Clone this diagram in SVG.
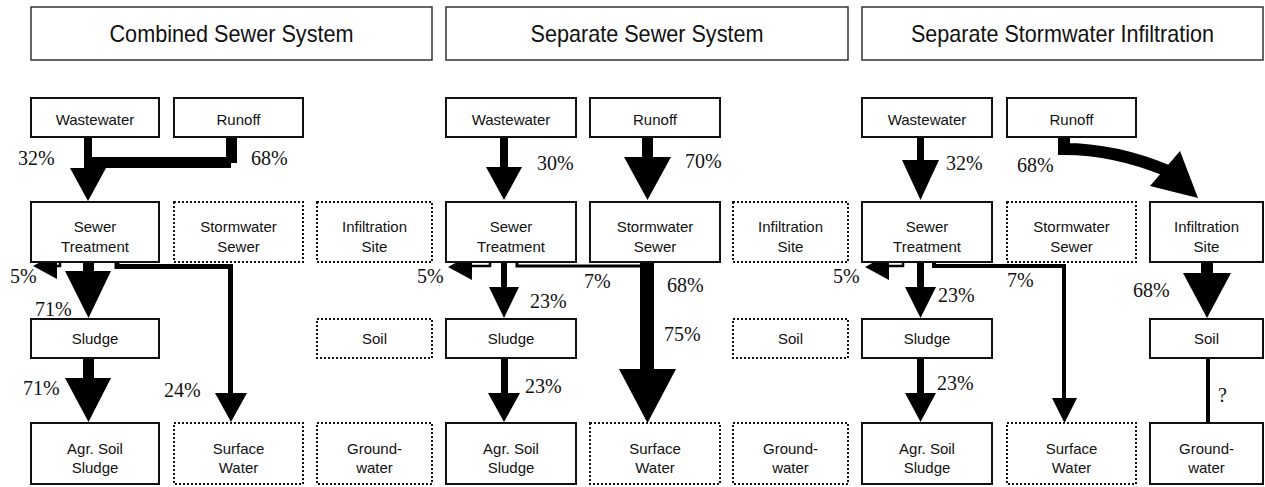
<svg xmlns="http://www.w3.org/2000/svg" width="1265" height="487" viewBox="0 0 1265 487">
<style>
.bg{fill:#fff}
.tb{fill:#fff;stroke:#333;stroke-width:1.5}
.bx{fill:#fff;stroke:#111;stroke-width:2}
.dt{fill:#fff;stroke:#111;stroke-width:2;stroke-dasharray:2 2}
.h{font-family:"Liberation Sans",Arial,sans-serif;font-size:24px;fill:#111;text-anchor:middle}
.t{font-family:"Liberation Sans",Arial,sans-serif;font-size:15px;fill:#111;text-anchor:middle}
.p{font-family:"Liberation Serif","Times New Roman",serif;font-size:20px;fill:#111}
.f{fill:#000}
.ln{fill:none;stroke:#000;stroke-linejoin:miter}
</style>
<rect class="bg" x="0" y="0" width="1265" height="487"/>

<g id="connectors">
  <!-- Panel 1 -->
  <rect class="f" x="84" y="137" width="8" height="31"/>
  <rect class="f" x="84" y="157" width="147" height="11"/>
  <rect class="f" x="226" y="137" width="11" height="26"/>
  <polygon class="f" points="70,168 106,168 88,201"/>
  <polygon class="f" points="33,266 57,253 57,279"/>
  <polyline class="ln" stroke-width="2.5" points="57,266 60,266 60,262"/>
  <rect class="f" x="83" y="262" width="11" height="10"/>
  <polygon class="f" points="65,271 111,271 88.5,318"/>
  <polyline class="ln" stroke-width="5" points="117,262 117,266.5 230.5,266.5 230.5,394"/>
  <polygon class="f" points="215,393 247,393 231,422"/>
  <rect class="f" x="83" y="358" width="11" height="21"/>
  <polygon class="f" points="65,378 111,378 88.5,422"/>
  <!-- Panel 2 -->
  <rect class="f" x="500" y="138" width="8" height="30"/>
  <polygon class="f" points="486,167 522,167 504,200"/>
  <rect class="f" x="642" y="138" width="11" height="20"/>
  <polygon class="f" points="624,157 671,157 647.5,200"/>
  <polygon class="f" points="448,267 472,254 472,280"/>
  <polyline class="ln" stroke-width="2.5" points="472,266 490,266 490,262"/>
  <rect class="f" x="501" y="262" width="6" height="26"/>
  <polygon class="f" points="489,287 519,287 504,318"/>
  <polyline class="ln" stroke-width="3" points="517,262 517,266 642,266"/>
  <rect class="f" x="640" y="262" width="14" height="108"/>
  <polygon class="f" points="619,369 676,369 647.5,423"/>
  <rect class="f" x="501" y="358" width="7" height="36"/>
  <polygon class="f" points="488,393 520,393 504,422"/>
  <!-- Panel 3 -->
  <rect class="f" x="917" y="138" width="7" height="23"/>
  <polygon class="f" points="902,160 939,160 920.5,200"/>
  <path class="ln" stroke-width="12" d="M1064,137 V149 Q1115,149 1168,171"/>
  <polygon class="f" points="1150,186 1180,151 1198,198"/>
  <polygon class="f" points="865,267 889,254 889,280"/>
  <polyline class="ln" stroke-width="2.5" points="889,266 903,266 903,262"/>
  <rect class="f" x="917" y="262" width="7" height="26"/>
  <polygon class="f" points="905,287 936,287 920.5,318"/>
  <polyline class="ln" stroke-width="4" points="934,262 934,266 1064,266 1064,399"/>
  <polygon class="f" points="1052,398 1077,398 1064.5,423"/>
  <rect class="f" x="917" y="358" width="7" height="36"/>
  <polygon class="f" points="905,393 936,393 920.5,422"/>
  <rect class="f" x="1201" y="262" width="12" height="12"/>
  <polygon class="f" points="1183,273 1231,273 1207,318"/>
  <line class="ln" stroke-width="4" x1="1208" y1="358" x2="1208" y2="423"/>
</g>

<g id="labels">
  <text class="p" x="18" y="165">32%</text>
  <text class="p" x="251" y="165">68%</text>
  <text class="p" x="10" y="283">5%</text>
  <text class="p" x="35" y="316">71%</text>
  <text class="p" x="23" y="395">71%</text>
  <text class="p" x="164" y="397">24%</text>
  <text class="p" x="537" y="170">30%</text>
  <text class="p" x="685" y="168">70%</text>
  <text class="p" x="417" y="283">5%</text>
  <text class="p" x="530" y="308">23%</text>
  <text class="p" x="584" y="288">7%</text>
  <text class="p" x="667" y="292">68%</text>
  <text class="p" x="664" y="341">75%</text>
  <text class="p" x="525" y="393">23%</text>
  <text class="p" x="946" y="170">32%</text>
  <text class="p" x="1017" y="172">68%</text>
  <text class="p" x="833" y="283">5%</text>
  <text class="p" x="938" y="302">23%</text>
  <text class="p" x="1007" y="287">7%</text>
  <text class="p" x="1133" y="297">68%</text>
  <text class="p" x="937" y="390">23%</text>
  <text class="p" x="1218" y="402">?</text>
</g>

<!-- Titles -->
<g id="title-combined"><rect class="tb" x="31" y="7" width="401" height="53"/><text class="h" x="231.5" y="42" textLength="244" lengthAdjust="spacingAndGlyphs">Combined Sewer System</text></g>
<g id="title-separate"><rect class="tb" x="446" y="7" width="402" height="53"/><text class="h" x="647" y="42" textLength="233" lengthAdjust="spacingAndGlyphs">Separate Sewer System</text></g>
<g id="title-infiltration"><rect class="tb" x="862" y="7" width="401" height="53"/><text class="h" x="1062.5" y="42" textLength="303" lengthAdjust="spacingAndGlyphs">Separate Stormwater Infiltration</text></g>

<!-- Panel 1 nodes -->
<g id="p1-wastewater"><rect class="bx" x="31" y="98" width="128" height="39"/><text class="t" x="95" y="125">Wastewater</text></g>
<g id="p1-runoff"><rect class="bx" x="174" y="98" width="129" height="39"/><text class="t" x="238.5" y="125">Runoff</text></g>
<g id="p1-sewer-treatment"><rect class="bx" x="31" y="202" width="128" height="60"/><text class="t" x="95" y="232">Sewer</text><text class="t" x="95" y="252">Treatment</text></g>
<g id="p1-stormwater-sewer"><rect class="dt" x="174" y="202" width="129" height="60"/><text class="t" x="238.5" y="232">Stormwater</text><text class="t" x="238.5" y="252">Sewer</text></g>
<g id="p1-infiltration-site"><rect class="dt" x="317" y="202" width="115" height="60"/><text class="t" x="374.5" y="232">Infiltration</text><text class="t" x="374.5" y="252">Site</text></g>
<g id="p1-sludge"><rect class="bx" x="31" y="319" width="128" height="39"/><text class="t" x="95" y="344">Sludge</text></g>
<g id="p1-soil"><rect class="dt" x="317" y="319" width="115" height="39"/><text class="t" x="374.5" y="344">Soil</text></g>
<g id="p1-agr-soil"><rect class="bx" x="31" y="423" width="128" height="61"/><text class="t" x="95" y="454">Agr. Soil</text><text class="t" x="95" y="473">Sludge</text></g>
<g id="p1-surface-water"><rect class="dt" x="174" y="423" width="129" height="61"/><text class="t" x="238.5" y="454">Surface</text><text class="t" x="238.5" y="473">Water</text></g>
<g id="p1-groundwater"><rect class="dt" x="317" y="423" width="115" height="61"/><text class="t" x="374.5" y="454">Ground-</text><text class="t" x="374.5" y="473">water</text></g>

<!-- Panel 2 nodes -->
<g id="p2-wastewater"><rect class="bx" x="446" y="98" width="130" height="39"/><text class="t" x="511" y="125">Wastewater</text></g>
<g id="p2-runoff"><rect class="bx" x="590" y="98" width="130" height="39"/><text class="t" x="655" y="125">Runoff</text></g>
<g id="p2-sewer-treatment"><rect class="bx" x="446" y="202" width="130" height="60"/><text class="t" x="511" y="232">Sewer</text><text class="t" x="511" y="252">Treatment</text></g>
<g id="p2-stormwater-sewer"><rect class="bx" x="590" y="202" width="130" height="60"/><text class="t" x="655" y="232">Stormwater</text><text class="t" x="655" y="252">Sewer</text></g>
<g id="p2-infiltration-site"><rect class="dt" x="733" y="202" width="115" height="60"/><text class="t" x="790.5" y="232">Infiltration</text><text class="t" x="790.5" y="252">Site</text></g>
<g id="p2-sludge"><rect class="bx" x="446" y="319" width="130" height="39"/><text class="t" x="511" y="344">Sludge</text></g>
<g id="p2-soil"><rect class="dt" x="733" y="319" width="115" height="39"/><text class="t" x="790.5" y="344">Soil</text></g>
<g id="p2-agr-soil"><rect class="bx" x="446" y="423" width="130" height="61"/><text class="t" x="511" y="454">Agr. Soil</text><text class="t" x="511" y="473">Sludge</text></g>
<g id="p2-surface-water"><rect class="dt" x="590" y="423" width="130" height="61"/><text class="t" x="655" y="454">Surface</text><text class="t" x="655" y="473">Water</text></g>
<g id="p2-groundwater"><rect class="dt" x="733" y="423" width="115" height="61"/><text class="t" x="790.5" y="454">Ground-</text><text class="t" x="790.5" y="473">water</text></g>

<!-- Panel 3 nodes -->
<g id="p3-wastewater"><rect class="bx" x="862" y="98" width="130" height="39"/><text class="t" x="927" y="125">Wastewater</text></g>
<g id="p3-runoff"><rect class="bx" x="1007" y="98" width="129" height="39"/><text class="t" x="1071.5" y="125">Runoff</text></g>
<g id="p3-sewer-treatment"><rect class="bx" x="862" y="202" width="130" height="60"/><text class="t" x="927" y="232">Sewer</text><text class="t" x="927" y="252">Treatment</text></g>
<g id="p3-stormwater-sewer"><rect class="dt" x="1007" y="202" width="129" height="60"/><text class="t" x="1071.5" y="232">Stormwater</text><text class="t" x="1071.5" y="252">Sewer</text></g>
<g id="p3-infiltration-site"><rect class="bx" x="1150" y="202" width="113" height="60"/><text class="t" x="1206.5" y="232">Infiltration</text><text class="t" x="1206.5" y="252">Site</text></g>
<g id="p3-sludge"><rect class="bx" x="862" y="319" width="130" height="39"/><text class="t" x="927" y="344">Sludge</text></g>
<g id="p3-soil"><rect class="bx" x="1150" y="319" width="113" height="39"/><text class="t" x="1206.5" y="344">Soil</text></g>
<g id="p3-agr-soil"><rect class="bx" x="862" y="423" width="130" height="61"/><text class="t" x="927" y="454">Agr. Soil</text><text class="t" x="927" y="473">Sludge</text></g>
<g id="p3-surface-water"><rect class="dt" x="1007" y="423" width="129" height="61"/><text class="t" x="1071.5" y="454">Surface</text><text class="t" x="1071.5" y="473">Water</text></g>
<g id="p3-groundwater"><rect class="bx" x="1150" y="423" width="113" height="61"/><text class="t" x="1206.5" y="454">Ground-</text><text class="t" x="1206.5" y="473">water</text></g>
</svg>
